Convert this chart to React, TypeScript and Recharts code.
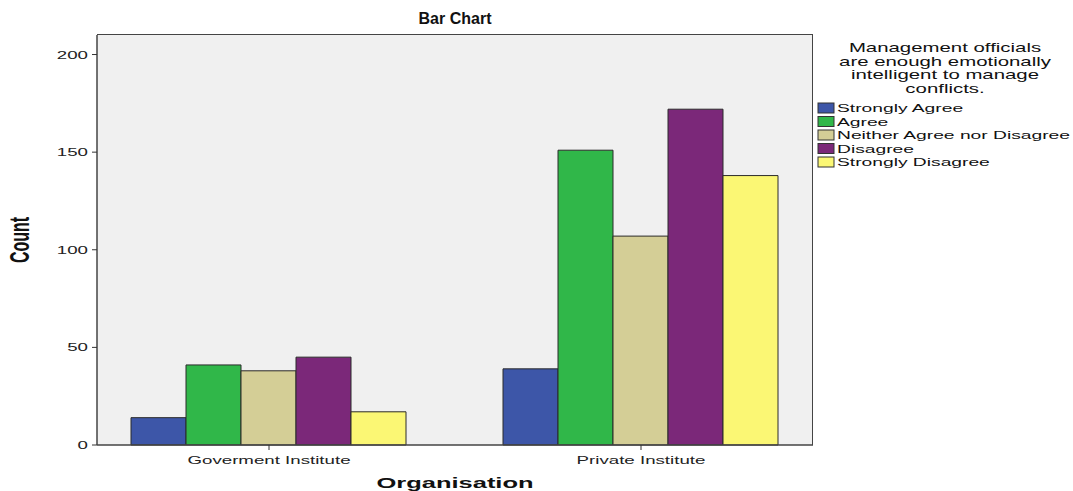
import { BarChart, Bar, XAxis, YAxis, CartesianGrid, Label } from "recharts";

const organisations = ["Goverment Institute", "Private Institute"];
const responses = ["Strongly Agree", "Agree", "Neither Agree nor Disagree", "Disagree", "Strongly Disagree"];
const stronglyAgree = [14, 39];
const agree = [41, 151];
const neither = [38, 107];
const disagree = [45, 172];
const stronglyDisagree = [17, 138];
const yTicks = [0, 50, 100, 150, 200];

const seriesValues = [stronglyAgree, agree, neither, disagree, stronglyDisagree];
const colors = ["#3d56a8", "#30b749", "#d4ce96", "#7b2879", "#fbf774"];

const data = organisations.map((name, i) => {
  const row: any = { name };
  responses.forEach((r, j) => {
    row[r] = seriesValues[j][i];
  });
  return row;
});

const FONT = "'Liberation Sans', Arial, sans-serif";
const SX = 1.7; // text in the original is stretched horizontally

const XTick = ({ x, y, payload }: any) => (
  <g transform={`translate(${x},${y + 12}) scale(${SX},1)`}>
    <text textAnchor="middle" fontSize={11} fontFamily={FONT} fill="#222">
      {payload.value}
    </text>
  </g>
);

const YTick = ({ x, y, payload }: any) => (
  <g transform={`translate(${x - 2},${y + 4}) scale(${SX},1)`}>
    <text textAnchor="end" fontSize={11} fontFamily={FONT} fill="#222">
      {payload.value}
    </text>
  </g>
);

const legendTitle = ["Management officials", "are enough emotionally", "intelligent to manage", "conflicts."];

// legend drawn beside the chart so it doesn't eat plot space
const ChartLegend = () => (
  <svg width={260} height={150} style={{ position: "absolute", left: 812, top: 30, overflow: "visible" }}>
    {legendTitle.map((line, i) => (
      <g key={line} transform={`translate(133,${22 + i * 13.5}) scale(${SX},1)`}>
        <text textAnchor="middle" fontSize={12} fontFamily={FONT} fill="#111">
          {line}
        </text>
      </g>
    ))}
    {responses.map((r, i) => (
      <g key={r}>
        <rect x={6} y={73 + i * 13.5} width={16} height={10} fill={colors[i]} stroke="#333" strokeWidth={1} />
        <g transform={`translate(25,${82 + i * 13.5}) scale(1.75,1)`}>
          <text fontSize={11} fontFamily={FONT} fill="#111">
            {r}
          </text>
        </g>
      </g>
    ))}
  </svg>
);

export default function App() {
  return (
    <div style={{ position: "absolute", left: 0, top: 0, width: 1073, height: 491, background: "#fff" }}>
      <div
        style={{
          position: "absolute",
          left: 455,
          top: 10,
          transform: "translateX(-50%)",
          fontFamily: FONT,
          fontWeight: "bold",
          fontSize: 16,
          color: "#111",
          whiteSpace: "nowrap",
        }}
      >
        Bar Chart
      </div>
      <BarChart
        width={1073}
        height={491}
        data={data}
        margin={{ top: 35, right: 260, bottom: 16, left: 47 }}
        barGap={0}
        barCategoryGap={48}
      >
        <CartesianGrid fill="#f0f0f0" horizontal={false} vertical={false} />
        <XAxis
          dataKey="name"
          height={30}
          padding={{ left: -14, right: -14 }}
          tick={<XTick />}
          tickLine={{ stroke: "#333" }}
          tickSize={5}
          axisLine={{ stroke: "#444", strokeWidth: 1.5 }}
        >
          <Label
            content={({ viewBox }: any) => (
              <g transform={`translate(${viewBox.x + viewBox.width / 2},${viewBox.y + 43}) scale(${SX},1)`}>
                <text textAnchor="middle" fontSize={15} fontWeight="bold" fontFamily={FONT} fill="#111">
                  Organisation
                </text>
              </g>
            )}
          />
        </XAxis>
        <YAxis
          width={50}
          domain={[0, 210]}
          ticks={yTicks}
          tick={<YTick />}
          tickSize={5}
          tickLine={{ stroke: "#333" }}
          axisLine={{ stroke: "#444", strokeWidth: 1.5 }}
        >
          <Label
            content={({ viewBox }: any) => (
              <g transform={`translate(29,${viewBox.y + viewBox.height / 2}) scale(${SX},1) rotate(-90)`}>
                <text textAnchor="middle" fontSize={16} fontWeight="bold" fontFamily="'Liberation Sans Narrow', 'Liberation Sans', Arial, sans-serif" fill="#111">
                  Count
                </text>
              </g>
            )}
          />
        </YAxis>
        {responses.map((r, i) => (
          <Bar key={r} dataKey={r} fill={colors[i]} stroke="#2a2a2a" strokeWidth={1} isAnimationActive={false} />
        ))}
      </BarChart>
      {/* top and right edges of the plot frame */}
      <div
        style={{
          position: "absolute",
          left: 97,
          top: 34,
          width: 715,
          height: 410,
          borderTop: "1.5px solid #444",
          borderRight: "1.5px solid #444",
          pointerEvents: "none",
        }}
      />
      <ChartLegend />
    </div>
  );
}
